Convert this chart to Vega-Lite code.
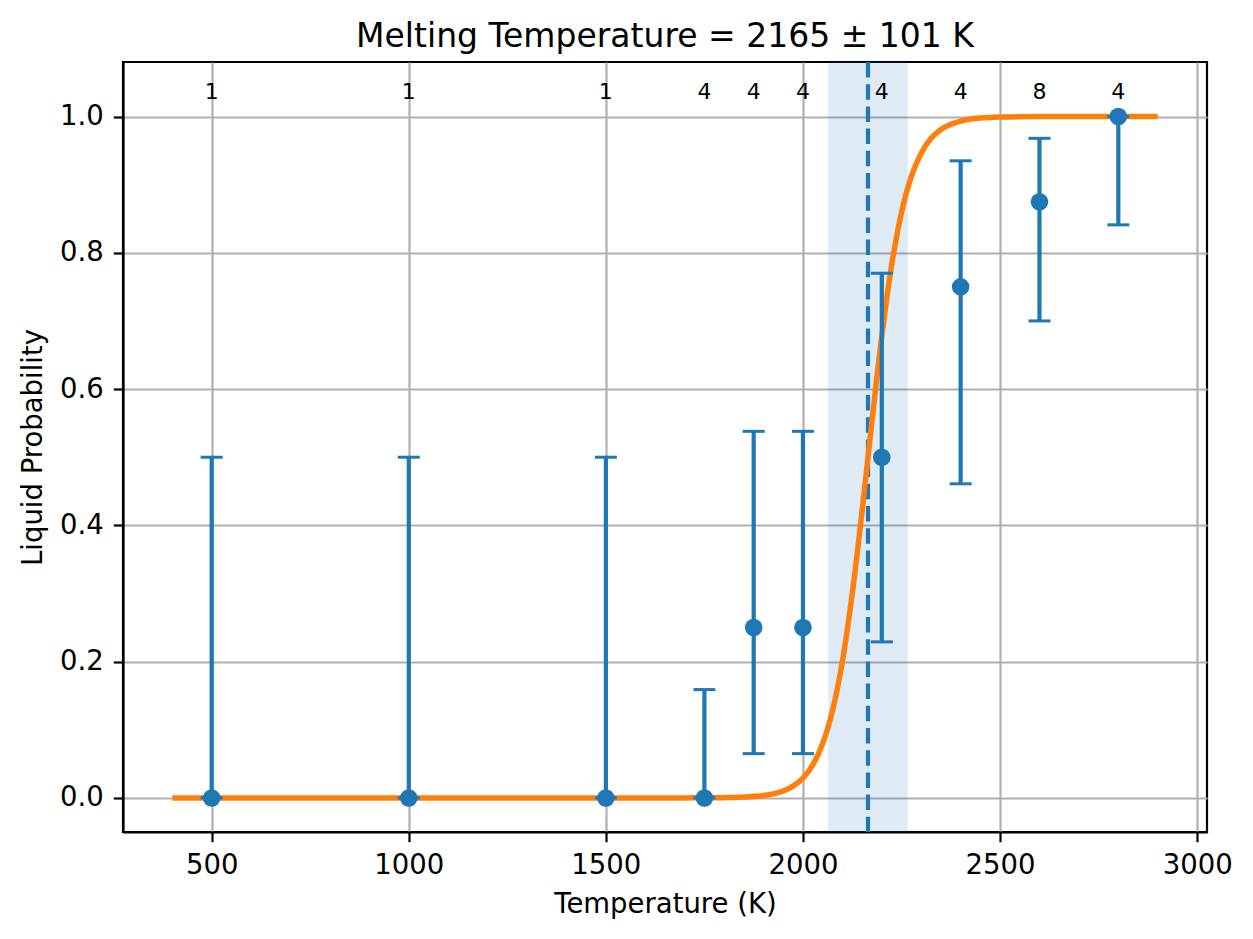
{
  "$schema": "https://vega.github.io/schema/vega-lite/v6.json",
  "autosize": {"type": "none"},
  "padding": {"left": 123, "top": 62, "right": 46, "bottom": 107},
  "width": 1084,
  "height": 770,
  "background": "white",
  "title": {
    "text": "Melting Temperature = 2165 ± 101 K",
    "font": "DejaVu Sans",
    "fontSize": 33,
    "fontWeight": "normal",
    "color": "black",
    "anchor": "middle",
    "frame": "group",
    "baseline": "bottom",
    "offset": -27
  },
  "config": {
    "view": {"stroke": "black", "strokeWidth": 2.2},
    "axis": {
      "domainColor": "black",
      "domainWidth": 2.2,
      "tickColor": "black",
      "tickWidth": 2.2,
      "tickSize": 9.7,
      "labelFont": "DejaVu Sans",
      "labelFontSize": 27.5,
      "labelColor": "black",
      "labelPadding": 10,
      "labelFlush": false,
      "labelOverlap": false,
      "titleFont": "DejaVu Sans",
      "titleFontSize": 27.5,
      "titleFontWeight": "normal",
      "titleColor": "black",
      "gridColor": "#b0b0b0",
      "gridWidth": 2.2,
      "gridOpacity": 1
    },
    "axisX": {"titlePadding": 11},
    "axisY": {"titlePadding": 12}
  },
  "datasets": {
    "points": [
      {"T": 500, "p": 0.0, "lo": 0.0, "hi": 0.5, "n": 1},
      {"T": 1000, "p": 0.0, "lo": 0.0, "hi": 0.5, "n": 1},
      {"T": 1500, "p": 0.0, "lo": 0.0, "hi": 0.5, "n": 1},
      {"T": 1750, "p": 0.0, "lo": 0.0, "hi": 0.159, "n": 4},
      {"T": 1875, "p": 0.25, "lo": 0.065, "hi": 0.538, "n": 4},
      {"T": 2000, "p": 0.25, "lo": 0.065, "hi": 0.538, "n": 4},
      {"T": 2200, "p": 0.5, "lo": 0.229, "hi": 0.77, "n": 4},
      {"T": 2400, "p": 0.75, "lo": 0.461, "hi": 0.935, "n": 4},
      {"T": 2600, "p": 0.875, "lo": 0.7, "hi": 0.968, "n": 8},
      {"T": 2800, "p": 1.0, "lo": 0.841, "hi": 1.0, "n": 4}
    ],
    "curve": [
      {"T": 400, "p": 0.0},
      {"T": 1000, "p": 0.0},
      {"T": 1500, "p": 0.0},
      {"T": 1600, "p": 0.0},
      {"T": 1700, "p": 0.00005},
      {"T": 1750, "p": 0.00015},
      {"T": 1800, "p": 0.0004},
      {"T": 1850, "p": 0.0012},
      {"T": 1900, "p": 0.0035},
      {"T": 1925, "p": 0.006},
      {"T": 1950, "p": 0.0102},
      {"T": 1975, "p": 0.0173},
      {"T": 2000, "p": 0.0291},
      {"T": 2025, "p": 0.0484},
      {"T": 2050, "p": 0.0798},
      {"T": 2062.5, "p": 0.1015},
      {"T": 2075, "p": 0.128},
      {"T": 2087.5, "p": 0.161},
      {"T": 2100, "p": 0.2},
      {"T": 2112.5, "p": 0.247},
      {"T": 2125, "p": 0.299},
      {"T": 2137.5, "p": 0.358},
      {"T": 2150, "p": 0.421},
      {"T": 2165, "p": 0.5},
      {"T": 2175, "p": 0.553},
      {"T": 2187.5, "p": 0.617},
      {"T": 2200, "p": 0.678},
      {"T": 2212.5, "p": 0.733},
      {"T": 2225, "p": 0.782},
      {"T": 2237.5, "p": 0.824},
      {"T": 2250, "p": 0.859},
      {"T": 2275, "p": 0.912},
      {"T": 2300, "p": 0.946},
      {"T": 2325, "p": 0.968},
      {"T": 2350, "p": 0.981},
      {"T": 2400, "p": 0.9933},
      {"T": 2450, "p": 0.9977},
      {"T": 2500, "p": 0.9992},
      {"T": 2600, "p": 0.9999},
      {"T": 2700, "p": 1.0},
      {"T": 2900, "p": 1.0}
    ],
    "melt": [
      {"T": 2165, "lo": 2064, "hi": 2266}
    ]
  },
  "layer": [
    {
      "data": {"name": "melt"},
      "mark": {"type": "rect", "color": "#1f77b4", "opacity": 0.15},
      "encoding": {
        "x": {
          "field": "lo", "type": "quantitative", "title": "Temperature (K)",
          "scale": {"domain": [275, 3025], "nice": false, "zero": false},
          "axis": {"values": [500, 1000, 1500, 2000, 2500, 3000], "format": "d"}
        },
        "x2": {"field": "hi"}
      }
    },
    {
      "data": {"name": "melt"},
      "mark": {"type": "rule", "color": "#1f77b4", "strokeWidth": 4.2, "strokeDash": [15.5, 6.7]},
      "encoding": {
        "x": {"field": "T", "type": "quantitative", "title": "Temperature (K)"}
      }
    },
    {
      "data": {"name": "curve"},
      "mark": {"type": "line", "color": "#ff7f0e", "strokeWidth": 5.5, "interpolate": "monotone"},
      "encoding": {
        "x": {"field": "T", "type": "quantitative", "title": "Temperature (K)"},
        "y": {
          "field": "p", "type": "quantitative", "title": "Liquid Probability",
          "scale": {"domain": [-0.05, 1.08], "nice": false, "zero": false},
          "axis": {"values": [0, 0.2, 0.4, 0.6, 0.8, 1.0], "format": ".1f"}
        }
      }
    },
    {
      "data": {"name": "points"},
      "mark": {"type": "rule", "color": "#1f77b4", "strokeWidth": 4.2},
      "encoding": {
        "x": {"field": "T", "type": "quantitative", "title": "Temperature (K)"},
        "y": {"field": "lo", "type": "quantitative", "title": "Liquid Probability"},
        "y2": {"field": "hi"}
      }
    },
    {
      "data": {"name": "points"},
      "mark": {"type": "tick", "orient": "horizontal", "color": "#1f77b4", "size": 22, "thickness": 3, "opacity": 1},
      "encoding": {
        "x": {"field": "T", "type": "quantitative", "title": "Temperature (K)"},
        "y": {"field": "lo", "type": "quantitative", "title": "Liquid Probability"}
      }
    },
    {
      "data": {"name": "points"},
      "mark": {"type": "tick", "orient": "horizontal", "color": "#1f77b4", "size": 22, "thickness": 3, "opacity": 1},
      "encoding": {
        "x": {"field": "T", "type": "quantitative", "title": "Temperature (K)"},
        "y": {"field": "hi", "type": "quantitative", "title": "Liquid Probability"}
      }
    },
    {
      "data": {"name": "points"},
      "mark": {"type": "circle", "color": "#1f77b4", "size": 310, "opacity": 1},
      "encoding": {
        "x": {"field": "T", "type": "quantitative", "title": "Temperature (K)"},
        "y": {"field": "p", "type": "quantitative", "title": "Liquid Probability"}
      }
    },
    {
      "data": {"name": "points"},
      "mark": {"type": "text", "font": "DejaVu Sans", "fontSize": 22, "color": "black", "align": "center", "baseline": "alphabetic"},
      "encoding": {
        "x": {"field": "T", "type": "quantitative", "title": "Temperature (K)"},
        "y": {"datum": 1.026, "type": "quantitative"},
        "text": {"field": "n", "type": "quantitative"}
      }
    }
  ]
}
